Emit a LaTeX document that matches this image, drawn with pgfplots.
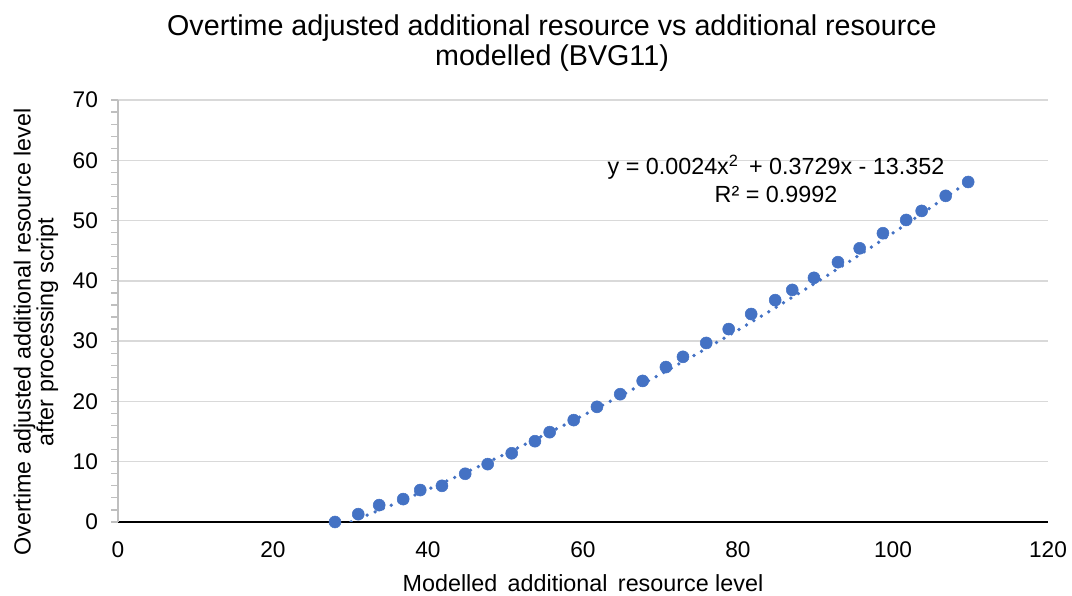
\documentclass[border=0pt]{standalone}
\usepackage{pgfplots}
\pgfplotsset{compat=1.18}
\usepackage{fontspec}
\setmainfont{Liberation Sans}
\definecolor{xlblue}{HTML}{4472C4}
\definecolor{gridgray}{HTML}{D9D9D9}
\definecolor{axgray}{HTML}{BFBFBF}
\begin{document}
\begin{tikzpicture}
\path[use as bounding box] (-88.5pt,-55.5pt) rectangle (715.5pt,391.5pt);
\begin{axis}[
  scale only axis,
  width=697.5pt, height=316.5pt,
  xmin=0, xmax=120, ymin=0, ymax=70,
  xtick={0,20,...,120}, ytick={0,10,...,70},
  minor y tick num=4,
  axis x line=bottom, axis y line=left,
  axis line style={-},
  x axis line style={black, line width=1.1pt},
  y axis line style={axgray, line width=0.9pt},
  ymajorgrids, major grid style={gridgray, line width=1.1pt},
  xtick style={draw=none},
  ytick style={axgray, line width=0.9pt},
  tick align=outside,
  major tick length=5pt, minor tick length=5pt,
  every tick label/.style={font=\fontsize{17}{19}\selectfont, text=black},
  /pgf/number format/assume math mode=true,
  xticklabel style={yshift=-6.5pt},
  yticklabel style={xshift=-6.5pt},
  clip=true,
]
\addplot[xlblue, line width=2.8pt, line cap=round, dash pattern=on 0pt off 6.5pt]
 coordinates {(28,-1.029)(30,-0.005)(35,2.64)(40,5.404)(45,8.289)(50,11.293)(55,14.418)(60,17.662)(65,21.027)(70,24.511)(75,28.116)(80,31.84)(85,35.685)(90,39.649)(95,43.734)(100,47.938)(105,52.263)(110,56.707)};
\addplot[only marks, mark=*, mark size=4.5pt, mark options={draw=xlblue, fill=xlblue}]
 coordinates {
(28,0)(31,1.3)(33.7,2.8)(36.8,3.8)(39,5.3)(41.8,6.0)(44.8,8.0)(47.7,9.6)(50.8,11.4)(53.8,13.4)
(55.7,14.9)(58.8,16.9)(61.8,19.1)(64.8,21.2)(67.7,23.4)(70.7,25.7)(72.9,27.4)(75.9,29.7)(78.8,32.0)(81.7,34.5)
(84.8,36.8)(87,38.5)(89.8,40.5)(92.9,43.1)(95.7,45.4)(98.7,47.9)(101.7,50.1)(103.7,51.6)(106.8,54.1)(109.7,56.4)};
\node[align=center, font=\fontsize{17.5}{21}\selectfont, anchor=center] at (axis cs:84.9,56.9)
 {y = 0.0024x\textsuperscript{2}\, + 0.3729x - 13.352\\R² = 0.9992};
\end{axis}
\node[align=center, font=\fontsize{21.5}{23}\selectfont] at (325.5pt,359.25pt)
 {Overtime adjusted additional resource vs additional resource\\modelled (BVG11)};
\node[font=\fontsize{17.5}{19}\selectfont] at (348.75pt,-45.75pt) {Modelled\, additional\, resource level};
\node[align=center, rotate=90, font=\fontsize{17.5}{17}\selectfont] at (-61.5pt,142.5pt)
 {Overtime adjusted additional resource level\\after processing script};
\end{tikzpicture}
\end{document}
